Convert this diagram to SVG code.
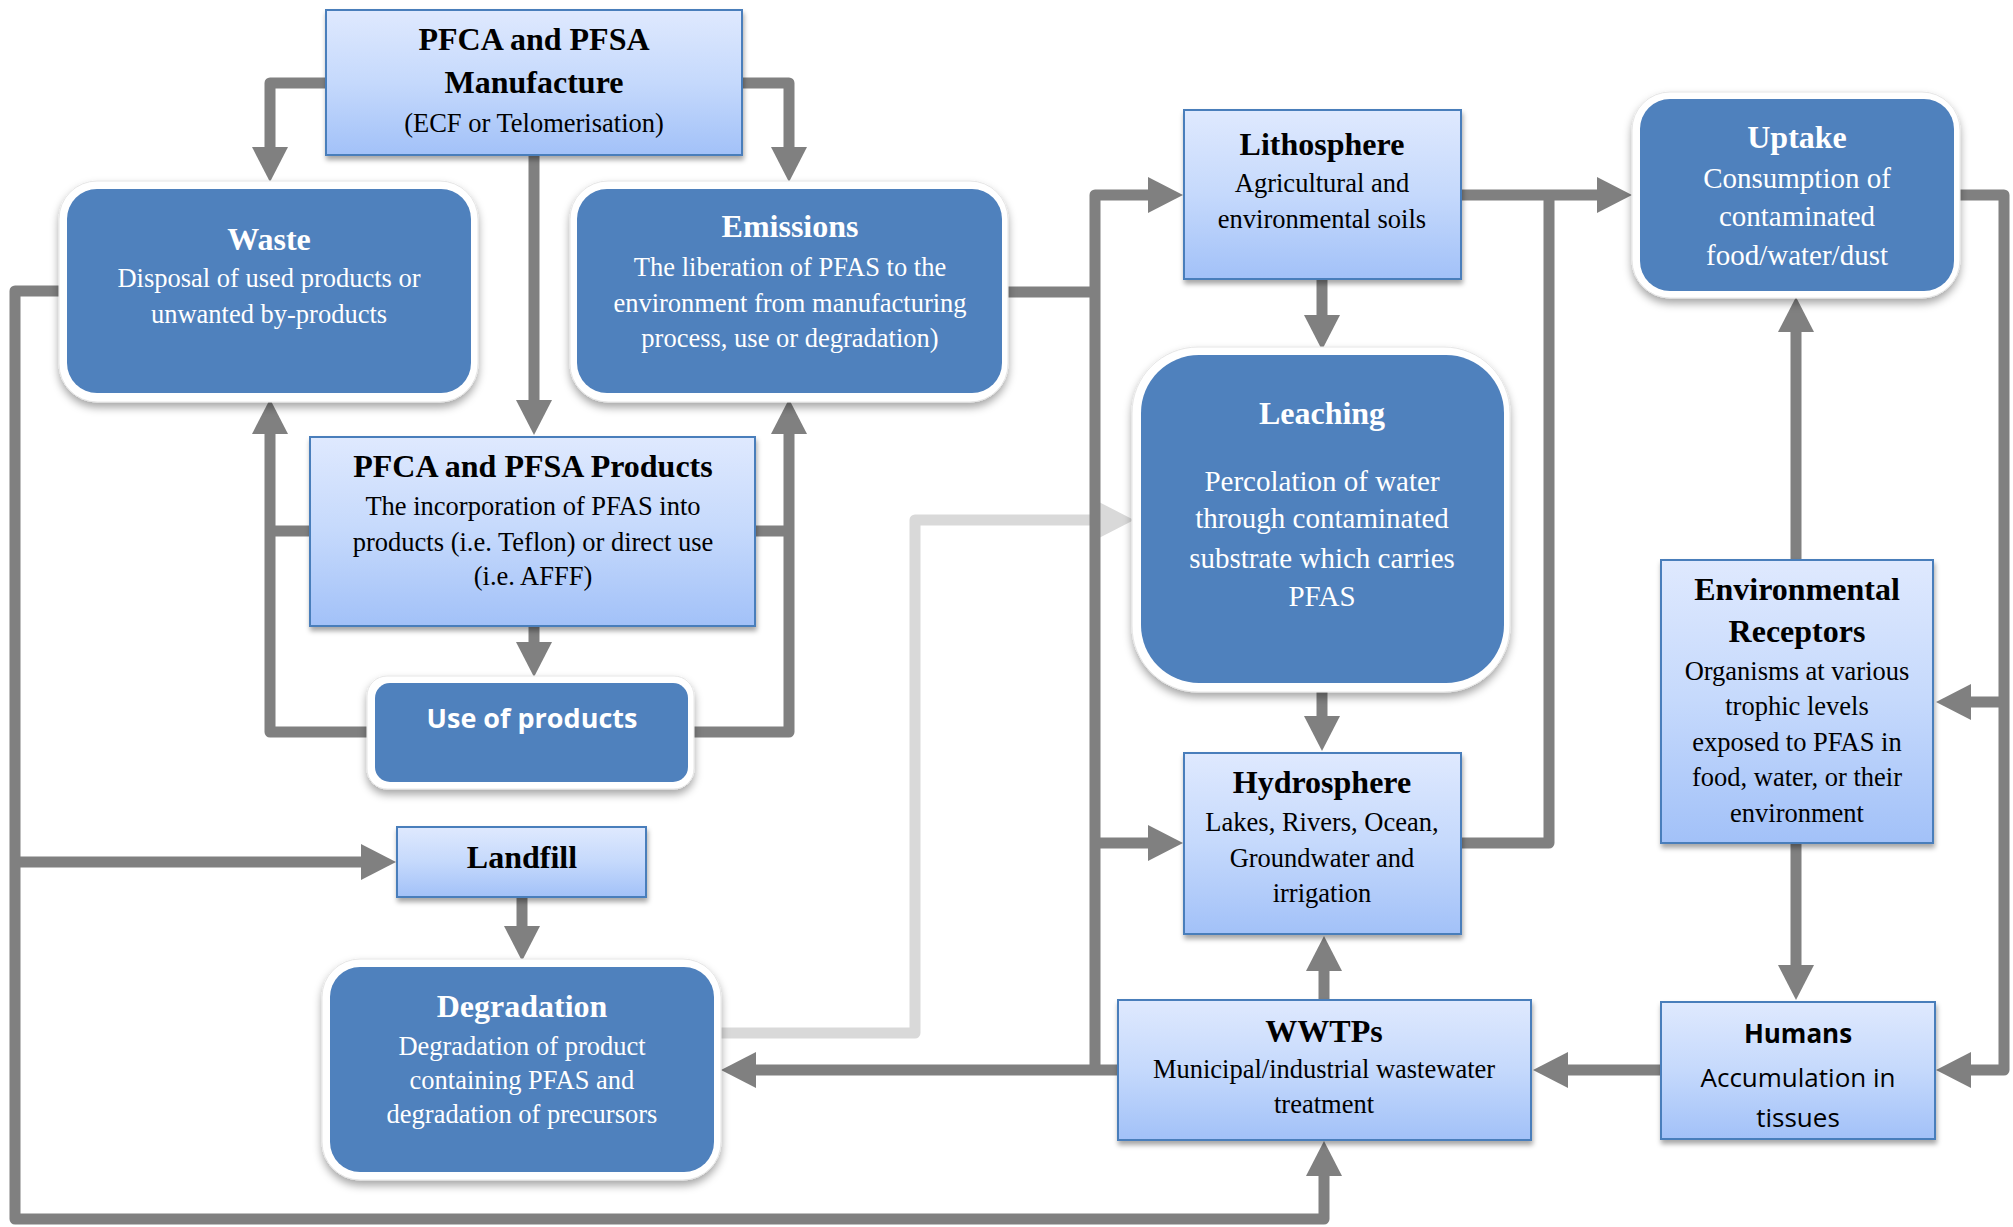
<svg xmlns="http://www.w3.org/2000/svg" width="2013" height="1227" viewBox="0 0 2013 1227">
<defs>
<linearGradient id="lg" x1="0" y1="0" x2="0" y2="1">
<stop offset="0" stop-color="#dfe9fe"/>
<stop offset="0.5" stop-color="#c5d9fc"/>
<stop offset="1" stop-color="#a2c1f8"/>
</linearGradient>
<filter id="sh" x="-10%" y="-10%" width="125%" height="130%">
<feDropShadow dx="1" dy="4" stdDeviation="2.5" flood-color="#000" flood-opacity="0.35"/>
</filter>
<filter id="sh2" x="-10%" y="-10%" width="125%" height="130%">
<feDropShadow dx="0" dy="5" stdDeviation="4" flood-color="#000" flood-opacity="0.35"/>
</filter>
<marker id="ah" markerUnits="userSpaceOnUse" markerWidth="36" markerHeight="36" refX="1" refY="18" orient="auto" viewBox="0 0 36 36">
<path d="M0,0 L35,18 L0,36 z" fill="#808080"/>
</marker>
<marker id="ahl" markerUnits="userSpaceOnUse" markerWidth="36" markerHeight="36" refX="1" refY="18" orient="auto" viewBox="0 0 36 36">
<path d="M0,0 L35,18 L0,36 z" fill="#d9d9d9"/>
</marker>
</defs>
<style>
.lb{fill:url(#lg);stroke:#4a7ebb;stroke-width:2;filter:url(#sh)}
.wo{fill:#fff;stroke:#e6e6e6;stroke-width:1;filter:url(#sh2)}
.db{fill:#4f81bd}
.c{fill:none;stroke:#808080;stroke-width:11;stroke-linejoin:round}
.cl{fill:none;stroke:#d9d9d9;stroke-width:11;stroke-linejoin:round}
.a{marker-end:url(#ah)}
text{font-family:"Liberation Serif","Times New Roman",serif;text-anchor:middle}
.t{font-size:32px;font-weight:bold}
.b{font-size:26.5px}
.b2{font-size:29px}
.k{fill:#000}
.w{fill:#fff}
.s{font-family:"Open Sans","Liberation Sans",sans-serif}
</style>
<rect width="2013" height="1227" fill="#fff"/>

<g id="connectors">
<path class="c a" d="M326,83 H270 V148"/>
<path class="c a" d="M742,83 H789 V148"/>
<path class="c a" d="M534,155 V401"/>
<path class="c" d="M310,531 H270"/>
<path class="c a" d="M375,732 H270 V433"/>
<path class="c" d="M755,531 H789"/>
<path class="c a" d="M694,732 H789 V433"/>
<path class="c a" d="M534,626 V643"/>
<path class="c a" d="M59,291 H15 V1219 H1324 V1175"/>
<path class="c a" d="M15,862 H362"/>
<path class="c a" d="M522,897 V927"/>
<path class="cl" d="M721,1033 H915 V520 H1100" marker-end="url(#ahl)"/>
<path class="c" d="M1002,292 H1095"/>
<path class="c a" d="M1095,1070 V195 H1149"/>
<path class="c a" d="M1095,843 H1149"/>
<path class="c a" d="M1118,1070 H755"/>
<path class="c a" d="M1322,279 V316"/>
<path class="c a" d="M1322,692 V717"/>
<path class="c a" d="M1461,195 H1598"/>
<path class="c" d="M1461,843 H1549 V195"/>
<path class="c a" d="M1796,560 V331"/>
<path class="c a" d="M1960,195 H2004 V1070 H1970"/>
<path class="c a" d="M2004,702 H1970"/>
<path class="c a" d="M1796,843 V966"/>
<path class="c a" d="M1661,1070 H1567"/>
<path class="c a" d="M1324,1000 V970"/>
</g>

<g id="manufacture">
<rect class="lb" x="326" y="10" width="416" height="145"/>
<text class="t k" x="534" y="50">PFCA and PFSA</text>
<text class="t k" x="534" y="93">Manufacture</text>
<text class="b k" x="534" y="132">(ECF or Telomerisation)</text>
</g>

<g id="waste">
<rect class="wo" x="59" y="181" width="419" height="221" rx="38"/>
<rect class="db" x="67" y="189" width="404" height="204" rx="30"/>
<text class="t w" x="269" y="250">Waste</text>
<text class="b w" x="269" y="287">Disposal of used products or</text>
<text class="b w" x="269" y="323">unwanted by-products</text>
</g>

<g id="emissions">
<rect class="wo" x="570" y="181" width="438" height="221" rx="38"/>
<rect class="db" x="577" y="189" width="425" height="204" rx="30"/>
<text class="t w" x="790" y="237">Emissions</text>
<text class="b w" x="790" y="276">The liberation of PFAS to the</text>
<text class="b w" x="790" y="312">environment from manufacturing</text>
<text class="b w" x="790" y="347">process, use or degradation)</text>
</g>

<g id="products">
<rect class="lb" x="310" y="437" width="445" height="189"/>
<text class="t k" x="533" y="477">PFCA and PFSA Products</text>
<text class="b k" x="533" y="515">The incorporation of PFAS into</text>
<text class="b k" x="533" y="551">products (i.e. Teflon) or direct use</text>
<text class="b k" x="533" y="585">(i.e. AFFF)</text>
</g>

<g id="use">
<rect class="wo" x="367" y="676" width="327" height="113" rx="20"/>
<rect class="db" x="375" y="683" width="313" height="99" rx="15"/>
<text class="s w" x="532" y="728" font-size="27" font-weight="bold">Use of products</text>
</g>

<g id="landfill">
<rect class="lb" x="397" y="827" width="249" height="70"/>
<text class="t k" x="522" y="868">Landfill</text>
</g>

<g id="degradation">
<rect class="wo" x="322" y="959" width="399" height="221" rx="38"/>
<rect class="db" x="330" y="967" width="384" height="205" rx="30"/>
<text class="t w" x="522" y="1017">Degradation</text>
<text class="b w" x="522" y="1055">Degradation of product</text>
<text class="b w" x="522" y="1089">containing PFAS and</text>
<text class="b w" x="522" y="1123">degradation of precursors</text>
</g>

<g id="lithosphere">
<rect class="lb" x="1184" y="110" width="277" height="169"/>
<text class="t k" x="1322" y="155">Lithosphere</text>
<text class="b k" x="1322" y="192">Agricultural and</text>
<text class="b k" x="1322" y="228">environmental soils</text>
</g>

<g id="leaching">
<rect class="wo" x="1132" y="347" width="378" height="345" rx="66"/>
<rect class="db" x="1141" y="355" width="363" height="328" rx="58"/>
<text class="t w" x="1322" y="424">Leaching</text>
<text class="b2 w" x="1322" y="491">Percolation of water</text>
<text class="b2 w" x="1322" y="528">through contaminated</text>
<text class="b2 w" x="1322" y="568">substrate which carries</text>
<text class="b2 w" x="1322" y="606">PFAS</text>
</g>

<g id="hydrosphere">
<rect class="lb" x="1184" y="753" width="277" height="181"/>
<text class="t k" x="1322" y="793">Hydrosphere</text>
<text class="b k" x="1322" y="831">Lakes, Rivers, Ocean,</text>
<text class="b k" x="1322" y="867">Groundwater and</text>
<text class="b k" x="1322" y="902">irrigation</text>
</g>

<g id="uptake">
<rect class="wo" x="1632" y="92" width="328" height="206" rx="38"/>
<rect class="db" x="1640" y="99" width="314" height="192" rx="30"/>
<text class="t w" x="1797" y="148">Uptake</text>
<text class="b2 w" x="1797" y="188">Consumption of</text>
<text class="b2 w" x="1797" y="226">contaminated</text>
<text class="b2 w" x="1797" y="265">food/water/dust</text>
</g>

<g id="receptors">
<rect class="lb" x="1661" y="560" width="272" height="283"/>
<text class="t k" x="1797" y="600">Environmental</text>
<text class="t k" x="1797" y="642">Receptors</text>
<text class="b k" x="1797" y="680">Organisms at various</text>
<text class="b k" x="1797" y="715">trophic levels</text>
<text class="b k" x="1797" y="751">exposed to PFAS in</text>
<text class="b k" x="1797" y="786">food, water, or their</text>
<text class="b k" x="1797" y="822">environment</text>
</g>

<g id="wwtps">
<rect class="lb" x="1118" y="1000" width="413" height="140"/>
<text class="t k" x="1324" y="1042">WWTPs</text>
<text class="b k" x="1324" y="1078">Municipal/industrial wastewater</text>
<text class="b k" x="1324" y="1113">treatment</text>
</g>

<g id="humans">
<rect class="lb" x="1661" y="1002" width="274" height="137"/>
<text class="s k" x="1798" y="1043" font-size="26" font-weight="bold">Humans</text>
<text class="s k" x="1798" y="1087" font-size="26">Accumulation in</text>
<text class="s k" x="1798" y="1127" font-size="26">tissues</text>
</g>
</svg>
